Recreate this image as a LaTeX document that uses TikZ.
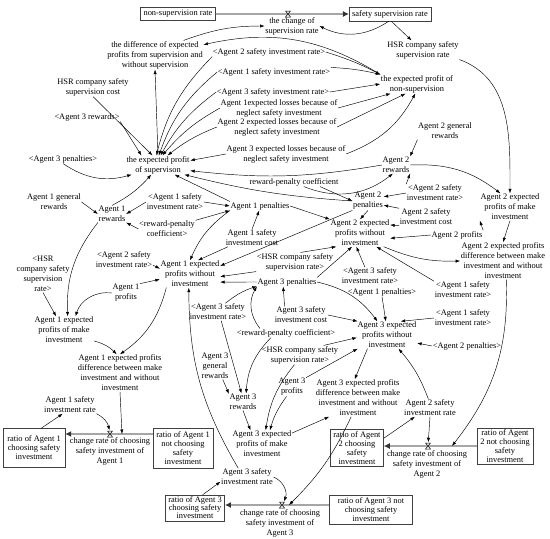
\documentclass[tikz,border=0pt]{standalone}
\usepackage{fontspec}
\setmainfont{Liberation Serif}
\usetikzlibrary{arrows.meta, positioning, calc}
\newcommand{\sdfont}{\fontsize{8.4}{10}\selectfont}
\newcommand{\stfont}{\fontsize{8.4}{9}\selectfont}

\begin{document}
\begin{tikzpicture}[
  x=1pt, y=1pt,
  >={Latex[length=4.5pt,width=3.2pt]}, line width=0.45pt,
  var/.style   = {align=center, inner sep=0.5pt, font=\sdfont},
  stock/.style = {draw=black!75, align=center, inner xsep=3pt, inner ysep=1pt, font=\stfont},
  pipe/.style  = {draw=black!35, line width=2.4pt, -{Latex[length=6pt,width=6pt,color=black!80]}},
  valve/.style = {inner sep=0pt, minimum width=6pt, minimum height=7pt},
  hourglass/.pic = {\draw[fill=white, line width=0.5pt] (-2.5,-3) -- (2.5,3) -- (-2.5,3) -- (2.5,-3) -- cycle;},
]
\useasboundingbox (0,0) rectangle (550,-539);

% stocks, flows and valves
\node[stock, minimum width=71pt, minimum height=13pt] (nsr) at (178,-14) {non-supervision rate};
\node[stock, minimum width=77pt, minimum height=14pt] (ssr) at (390,-14) {safety supervision rate};
\node[stock, minimum width=62pt, minimum height=39pt] (r1c) at (34,-448) {ratio of Agent 1\\choosing safety\\investment};
\node[stock, minimum width=60pt, minimum height=40pt] (r1n) at (183,-448) {ratio of Agent 1\\not choosing\\safety\\investment};
\node[stock, minimum width=50pt, minimum height=37pt] (r2c) at (357,-448) {ratio of Agent\\2 choosing\\safety\\investment};
\node[stock, minimum width=55pt, minimum height=36pt] (r2n) at (505,-446) {ratio of Agent\\2 not choosing\\safety\\investment};
\node[stock, minimum width=59pt, minimum height=26pt, font=\fontsize{8.4}{8}\selectfont] (r3c) at (195,-508) {ratio of Agent 3\\choosing safety\\investment};
\node[stock, minimum width=83pt, minimum height=29pt] (r3n) at (371,-510) {ratio of Agent 3 not\\choosing safety\\investment};

\node[valve] (v0) at (288,-14) {};
\node[valve] (v1) at (110,-434) {};
\node[valve] (v2) at (428,-446) {};
\node[valve] (v3) at (282,-505) {};
\coordinate (c1) at (122,-434);
\coordinate (c2) at (452,-446);
\coordinate (c3) at (289,-505);

\node[var] (csr) at (292,-26) {the change of\\supervision rate};
\node[var] (cr1) at (110,-451) {change rate of choosing\\safety investment of\\Agent 1};
\node[var] (cr2) at (427,-464) {change rate of choosing\\safety investment of\\Agent 2};
\node[var] (cr3) at (280,-523) {change rate of choosing\\safety investment of\\Agent 3};

% supervisor variables
\node[var] (diff)   at (155,-55)  {the difference of expected\\profits from supervision and\\without supervision};
\node[var] (hsrr)   at (423,-50)  {HSR company safety\\supervision rate};
\node[var] (a2sirT) at (269,-52)  {<Agent 2 safety investment rate>};
\node[var] (a1sirT) at (274,-72)  {<Agent 1 safety investment rate>};
\node[var] (a3sirT) at (273,-92)  {<Agent 3 safety investment rate>};
\node[var] (ens)    at (417,-84)  {the expected profit of\\non-supervision};
\node[var] (hsrc)   at (93,-87)   {HSR company safety\\supervision cost};
\node[var] (l1)     at (279,-108) {Agent 1expected losses because of\\neglect safety investment};
\node[var] (a3rw)   at (87,-117)  {<Agent 3 rewards>};
\node[var] (l2)     at (277,-127) {Agent 2 expected losses because of\\neglect safety investment};
\node[var] (a3pn)   at (63,-159)  {<Agent 3 penalties>};
\node[var] (es)     at (158,-165) {the expected profit\\of supervison};
\node[var] (l3)     at (286,-154) {Agent 3 expected losses because of\\neglect safety investment};
\node[var] (rpc)    at (294,-182) {reward-penalty coefficient};

% agent 2
\node[var] (a2gr)   at (445,-131) {Agent 2 general\\rewards};
\node[var] (a2r)    at (396,-165) {Agent 2\\rewards};
\node[var] (a2p)    at (368,-201) {Agent 2\\penalties};
\node[var] (a2sirB) at (435,-193) {<Agent 2 safety\\investment rate>};
\node[var] (a2em)   at (510,-207) {Agent 2 expected\\profits of make\\investment};
\node[var] (a2sc)   at (426,-217) {Agent 2 safety\\investment cost};
\node[var] (a2ew)   at (360,-233) {Agent 2 expected\\profits without\\investment};
\node[var] (a2pr)   at (457,-235) {Agent 2 profits};
\node[var] (a2d)    at (503,-261) {Agent 2 expected profits\\difference between make\\investment and without\\investment};
\node[var] (a2sir)  at (430,-408) {Agent 2 safety\\investment rate};

% agent 1
\node[var] (a1gr)   at (54,-202)  {Agent 1 general\\rewards};
\node[var] (a1r)    at (112,-214) {Agent 1\\rewards};
\node[var] (a1sirA) at (175,-202) {<Agent 1 safety\\investment rate>};
\node[var] (a1p)    at (260,-206) {Agent 1 penalties};
\node[var] (rpcA)   at (167,-229) {<reward-penalty\\coefficient>};
\node[var] (a1sc)   at (252,-238) {Agent 1 safety\\investment cost};
\node[var] (hsrA)   at (43,-274)  {<HSR\\company safety\\supervision\\rate>};
\node[var] (a2sirC) at (124,-260) {<Agent 2 safety\\investment rate>};
\node[var] (a1ew)   at (190,-274) {Agent 1 expected\\profits without\\investment};
\node[var] (a1pr)   at (126,-293) {Agent 1\\profits};
\node[var] (a1em)   at (64,-330)  {Agent 1 expected\\profits of make\\investment};
\node[var] (a1d)    at (120,-373) {Agent 1 expected profits\\difference between make\\investment and without\\investment};
\node[var] (a1sir)  at (70,-405)  {Agent 1 safety\\investment rate};

% agent 3
\node[var] (hsrB)   at (295,-262) {<HSR company safety\\supervision rate>};
\node[var] (a3p)    at (287,-282) {Agent 3 penalties};
\node[var] (a3sirB) at (370,-276) {<Agent 3 safety\\investment rate>};
\node[var] (a1pnB)  at (382,-292) {<Agent 1 penalties>};
\node[var] (a1sirB) at (463,-290) {<Agent 1 safety\\investment rate>};
\node[var] (a1sirC) at (463,-318) {<Agent 1 safety\\investment rate>};
\node[var] (a3sc)   at (301,-315) {Agent 3 safety\\investment cost};
\node[var] (a3ew)   at (387,-335) {Agent 3 expected\\profits without\\investment};
\node[var] (rpcB)   at (286,-333) {<reward-penalty coefficient>};
\node[var] (a3sirC) at (218,-312) {<Agent 3 safety\\investment rate>};
\node[var] (hsrC)   at (300,-355) {<HSR company safety\\supervision rate>};
\node[var] (a2pnB)  at (467,-346) {<Agent 2 penalties>};
\node[var] (a3gr)   at (215,-366) {Agent 3\\general\\rewards};
\node[var] (a3r)    at (243,-402) {Agent 3\\rewards};
\node[var] (a3pr)   at (292,-387) {Agent 3\\profits};
\node[var] (a3d)    at (358,-398) {Agent 3 expected profits\\difference between make\\investment and without\\investment};
\node[var] (a3em)   at (262,-444) {Agent 3 expected\\profits of make\\investment};
\node[var] (a3sir)  at (247,-477) {Agent 3 safety\\investment rate};

% pipes
\draw[pipe] (nsr.east) -- (ssr.west);
\draw[pipe] (r1n.west |- v1) -- (r1c.east |- v1);
\draw[pipe] (r2n.west |- v2) -- (r2c.east |- v2);
\draw[pipe] (r3n.west |- v3) -- (r3c.east |- v3);
\foreach \v in {v0,v1,v2,v3} \pic at (\v) {hourglass};

% supervision links
\draw[->] (diff.27) to[bend left=10] (csr.west);
\draw[->] (ssr.-100) to[bend left=30] (csr.east);
\draw[->] (ssr.-80) -- (hsrr.140);
\draw[->] (hsrr.south east) to[out=-20, in=90] (a2em.north);
\draw[->] (ens.north west) to[bend right=22] (diff.12);
\draw[->] (es.north) -- (diff.south);
\draw[->] (hsrc.south) -- (es.120);
\draw[->] (a3rw.south east) -- (es.150);
\draw[->] (a2sirT.south west) to[bend right=15] (es.100);
\draw[->] (a1sirT.west) to[bend right=15] (es.85);
\draw[->] (a3sirT.west) to[bend right=12] (es.75);
\draw[->] (l1.west) to[bend right=10] (es.65);
\draw[->] (l2.west) to[bend right=8] (es.45);
\draw[->] (l3.west) -- (es.8);
\draw[->] (a3pn.south) to[bend right=25] (es.200);
\draw[->] (a1r.north) to[bend right=10] (es.235);
\draw[->] (a1p.north west) -- (es.-30);
\draw[->] (a2r.west) to[bend left=8] (es.-10);
\draw[->] (a2p.west) to[bend left=5] (es.-20);
\draw[->] (a2sirT.east) to[bend left=5] (ens.north west);
\draw[->] (a1sirT.north east) to[bend left=5] (ens.north west);
\draw[->] (a3sirT.east) -- (ens.west);
\draw[->] (l1.east) -- (ens.200);
\draw[->] (l2.east) -- (ens.220);
\draw[->] (l3.east) to[bend right=20] (ens.-100);

% agent 2 links
\draw[->] (a2gr.south west) -- (a2r.north east);
\draw[->] (a2r.east) to[bend left=20] (a2em.125);
\draw[->] (a2sirB.north west) -- (a2r.south east);
\draw[->] (a2sirB.west) -- (a2p.15);
\draw[->] (a2sc.north west) -- (a2p.-15);
\draw[->] (rpc.-25) to[bend right=30] (a2r.250);
\draw[->] (rpc.-10) -- (a2p.west);
\draw[->] (a2p.south) -- (a2ew.north);
\draw[->] (a2sc.south west) -- (a2ew.15);
\draw[->] (a2pr.west) -- (a2ew.-10);
\draw[->] (a2pr.north east) -- (a2em.south west);
\draw[->] (a2em.south) -- (a2d.north);
\draw[->] (a2ew.-30) to[bend right=12] (a2d.west);
\draw[->] (a1p.east) -- (a2ew.north west);
\draw[->] (a1sirB.north west) -- (a2ew.-40);
\draw[->] (a3sirB.120) -- (a2ew.-105);
\draw[->] (hsrB.60) -- (a2ew.-150);
\draw[->] (a3p.north east) -- (a2ew.-120);
\draw[->] (a2sir.south) -- (v2);
\draw[->] (a2d.-80) to[bend left=20] (c2);
\draw[->] (r2c.20) -- (a2sir.-150);
\draw[->] (a2sir.100) to[bend right=10] (a3ew.-50);

% agent 1 links
\draw[->] (a1gr.east) -- (a1r.west);
\draw[->] (a1sirA.west) -- (a1r.east);
\draw[->] (a1sirA.east) -- (a1p.west);
\draw[->] (rpcA.west) -- (a1r.south east);
\draw[->] (rpcA.north east) -- (a1p.south west);
\draw[->] (a1sc.north) -- (a1p.-100);
\draw[->] (a1sc.200) -- (a1ew.60);
\draw[->] (a1p.south west) to[bend right=15] (a1ew.north);
\draw[->] (a2p.south west) -- (a1ew.15);
\draw[->] (hsrB.south west) -- (a1ew.-5);
\draw[->] (a3p.west) -- (a1ew.-15);
\draw[->] (a2sirC.-10) -- (a1ew.170);
\draw[->] (a1pr.north east) -- (a1ew.-170);
\draw[->] (a1pr.west) to[bend right=40] (a1em.50);
\draw[->] (a1r.south west) to[bend right=20] (a1em.75);
\draw[->] (hsrA.south) -- (a1em.120);
\draw[->] (a1ew.-150) to[bend left=20] (a1d.north);
\draw[->] (a1em.-20) to[bend left=15] (a1d.100);
\draw[->] (a1d.south) -- (c1);
\draw[->] (a1sir.south east) to[bend left=25] (v1);
\draw[->] (r1c.70) -- (a1sir.-130);
\draw[->] (a3sir.135) to[bend left=15] (a1ew.-95);

% agent 3 links
\draw[->] (a3gr.-60) -- (a3r.150);
\draw[->] (a3sirC.-70) -- (a3r.100);
\draw[->] (rpcB.-163) to[bend right=20] (a3r.70);
\draw[->] (a3sirC.50) to[bend left=10] (a3p.-172);
\draw[->] (rpcB.170) to[bend left=35] (a3p.south west);
\draw[->] (a3sc.152) -- (a3p.-130);
\draw[->] (a3sc.east) -- (a3ew.155);
\draw[->] (a3p.east) to[bend left=20] (a3ew.125);
\draw[->] (a1pnB.south) -- (a3ew.95);
\draw[->] (a1sirC.west) -- (a3ew.45);
\draw[->] (a2pnB.west) -- (a3ew.-15);
\draw[->] (hsrC.22) -- (a3ew.-175);
\draw[->] (a3pr.north east) -- (a3ew.-155);
\draw[->] (hsrC.-120) to[bend right=15] (a3em.75);
\draw[->] (a3pr.-120) to[bend right=10] (a3em.60);
\draw[->] (a3r.south) -- (a3em.130);
\draw[->] (a3ew.-145) -- (a3d.100);
\draw[->] (a3em.20) -- (a3d.-147);
\draw[->] (a3d.-110) to[bend left=10] (c3);
\draw[->] (a3sir.east) to[bend left=45] (v3);
\draw[->] (r3c.60) -- (a3sir.-170);
\end{tikzpicture}
\end{document}
